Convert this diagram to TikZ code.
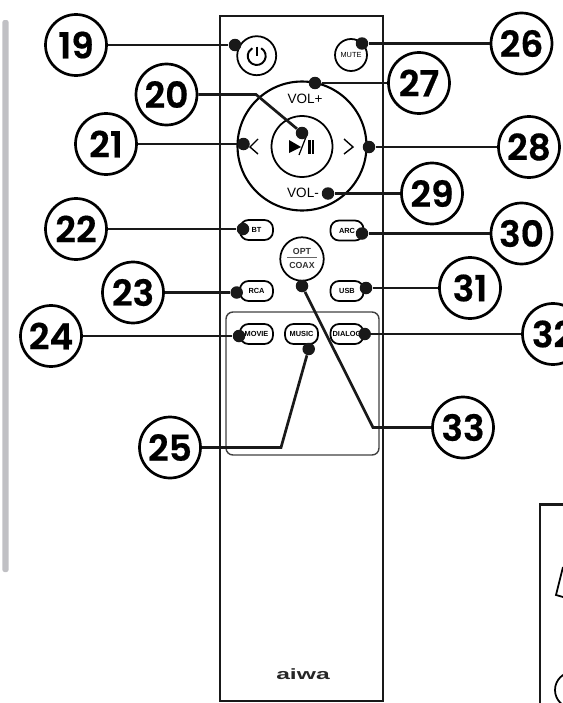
\documentclass[tikz,border=0pt]{standalone}
\usepackage{fontspec}
\setmainfont{Poppins}
\newfontfamily\lab{Liberation Sans}
\newfontfamily\digits[FakeBold=0.5]{Poppins SemiBold}
\def\pw{0.054cm}
\definecolor{rail}{RGB}{192,192,196}
\tikzset{
  num/.style={draw,circle,line width=\pw,minimum size=1.22cm,inner sep=0pt,font=\digits\fontsize{20.5}{20.5}\selectfont},
  pin/.style={fill=black!90,circle,minimum size=0.25cm,inner sep=0pt},
  lead/.style={line width=\pw,black!90},
  btn/.style={draw,line width=1pt,rounded corners=0.17cm,minimum width=0.66cm,minimum height=0.4cm,inner sep=0pt,font=\lab\fontsize{4.2}{4.2}\selectfont\bfseries},
  rnd/.style={draw,circle,line width=1pt,inner sep=0pt}
}
\begin{document}
\begin{tikzpicture}[x=0.02cm,y=-0.02cm]
%\draw[help lines] (0,0) grid (563,703);
\clip[use as bounding box] (0,0) rectangle (563,703);

\fill[rail,rounded corners=0.04cm] (2.5,20) rectangle (8.5,572);
\draw[line width=\pw,black!90] (220,16) rectangle (383,701);
\draw[line width=0.8pt,black!75,rounded corners=0.14cm] (226,312) rectangle (379,455);

\node[rnd,minimum size=0.78cm] (power) at (256.7,55.7) {};
\draw[line width=1.1pt] (261.2,48.2) arc (-60:240:9);
\draw[line width=1.1pt] (256.7,46.5)--(256.7,56);
\node[rnd,minimum size=0.64cm,font=\lab\fontsize{4.2}{4.2}\selectfont] (mute) at (351,55) {MUTE};

\node[rnd,line width=1.2pt,minimum size=2.58cm] (dial) at (302,146) {};
\node[rnd,minimum size=1.22cm] (play) at (302,146.5) {};
\draw[line width=0.8pt] (258,139)--(250,147)--(258,154);
\draw[line width=0.8pt] (344,139)--(353,147)--(344,154);
\fill (289,140)--(289,153)--(301,147)--cycle;
\draw[line width=0.7pt] (299,155)--(306,137);
\fill (308,140) rectangle (310.5,154);
\fill (311.7,140) rectangle (314.2,154);
\node[font=\lab\fontsize{7.7}{7.7}\selectfont] (volup) at (305,99) {VOL+};
\node[font=\lab\fontsize{7.7}{7.7}\selectfont] (voldn) at (303,193) {VOL-};

\node[btn] (bt) at (256.5,230) {BT};
\node[btn] (arc) at (347,230.5) {ARC};
\node[btn] (rca) at (256.5,291) {RCA};
\node[btn] (usb) at (347,291) {USB};
\node[btn] (movie) at (256.5,334) {MOVIE};
\node[btn] (music) at (301.5,334) {MUSIC};
\node[btn] (dialog) at (347,334) {DIALOG};

\node[rnd,minimum size=0.87cm] (opt) at (302,259) {};
\node[font=\lab\fontsize{5}{5}\selectfont\bfseries,black!80] (optt) at (302,251) {OPT};
\node[font=\lab\fontsize{5}{5}\selectfont\bfseries,black!80] (coax) at (302,265) {COAX};
\draw[line width=0.5pt,black!60] (287,257.7)--(317,257.7);

\node[font=\lab\fontsize{8.5}{8.5}\selectfont\bfseries,xscale=1.65,black!85] (logo) at (303,674) {aiwa};

\draw[line width=\pw,black!90] (563,504.3)--(540,504.3)--(540,703);
\draw[line width=1pt] (563,567)--(556,595)--(563,597);
\draw[line width=1pt] (573,690) circle (18);

\node[num] (n19) at (76,45) {19};
\node[num] (n20) at (166.5,94.5) {20};
\node[num] (n21) at (106,144) {21};
\node[num] (n22) at (76,229) {22};
\node[num] (n23) at (133,292.5) {23};
\node[num] (n24) at (51,336) {24};
\node[num] (n25) at (170,447.5) {25};
\node[num] (n26) at (521.5,43.5) {26};
\node[num] (n27) at (419,83) {27};
\node[num] (n28) at (529,147) {28};
\node[num] (n29) at (432,193.5) {29};
\node[num] (n30) at (521.5,233.5) {30};
\node[num] (n31) at (470,288) {31};
\node[num] (n32) at (553,334) {32};
\node[num] (n33) at (463,427.5) {33};

\node[pin] (d19) at (235,45) {};
\node[pin] (d20) at (302,133) {};
\node[pin] (d21) at (243.5,144) {};
\node[pin] (d22) at (243,229) {};
\node[pin] (d23) at (236.7,292.5) {};
\node[pin] (d24) at (239,336) {};
\node[pin] (d25) at (308.7,349) {};
\node[pin] (d26) at (362,43.5) {};
\node[pin] (d27) at (315,83) {};
\node[pin] (d28) at (369,147) {};
\node[pin] (d29) at (328,193.5) {};
\node[pin] (d30) at (362,233.5) {};
\node[pin] (d31) at (366,288) {};
\node[pin] (d32) at (364.7,334) {};
\node[pin] (d33) at (302,286) {};
\coordinate (k20) at (256,94.5);
\coordinate (k25) at (281,447.5);
\coordinate (k33) at (373,427.5);

\draw[lead] (n19)--(d19);
\draw[lead] (n20)--(k20)--(d20);
\draw[lead] (n21)--(d21);
\draw[lead] (n22)--(d22);
\draw[lead] (n23)--(d23);
\draw[lead] (n24)--(d24);
\draw[lead] (n25)--(k25)--(d25);
\draw[lead] (n26)--(d26);
\draw[lead] (n27)--(d27);
\draw[lead] (n28)--(d28);
\draw[lead] (n29)--(d29);
\draw[lead] (n30)--(d30);
\draw[lead] (n31)--(d31);
\draw[lead] (n32)--(d32);
\draw[lead] (n33)--(k33)--(d33);
\end{tikzpicture}
\end{document}
